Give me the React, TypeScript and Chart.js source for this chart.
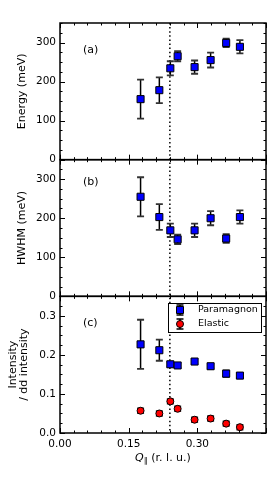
import React, { useEffect, useRef } from 'react';
import { Chart, registerables } from 'chart.js';

Chart.register(...registerables);

// ---------- data ----------
const qValues = [0.176, 0.217, 0.241, 0.257, 0.294, 0.329, 0.363, 0.393];

const energy = [155, 178, 234, 265, 237, 255, 299, 289];
const energyErr = [50, 33, 18, 13, 17, 19, 11, 17];

const hwhm = [255, 203, 169, 146, 169, 200, 148, 203];
const hwhmErr = [50, 33, 17, 12, 17, 18, 11, 17];

const paramagnon = [0.227, 0.212, 0.176, 0.173, 0.183, 0.171, 0.152, 0.147];
const paramagnonErr = [0.063, 0.027, 0.006, 0.006, 0.006, 0.006, 0.008, 0.006];

const elastic = [0.057, 0.05, 0.081, 0.062, 0.034, 0.037, 0.024, 0.015];
const elasticErr = [0.006, 0.006, 0.006, 0.006, 0.006, 0.006, 0.006, 0.006];

const orderQ = 0.24;

const panelLabels = ['(a)', '(b)', '(c)'];
const yTitles: (string | string[])[] = ['Energy (meV)', 'HWHM (meV)', ['Intensity', '/ dd intensity']];
const xTitleMain = 'Q';
const xTitleSub = '\u2225';
const xTitleRest = ' (r. l. u.)';

const FONT = '"DejaVu Sans", sans-serif';

const panels = [
  { id: 'ya', min: 0, max: 350, major: 100, minor: 25, digits: 0 },
  { id: 'yb', min: 0, max: 350, major: 100, minor: 25, digits: 0 },
  { id: 'yc', min: 0, max: 0.35, major: 0.1, minor: 0.025, digits: 1 },
];
const xAxis = { min: 0, max: 0.45, major: 0.15, minor: 0.03 };

const isMajor = (v: number, step: number) => Math.abs(v / step - Math.round(v / step)) < 1e-6;

const errorBarPlugin = {
  id: 'errorBars',
  beforeDatasetsDraw(chart: any) {
    const ctx = chart.ctx;
    const xs = chart.scales.x;
    const area = chart.chartArea;
    ctx.save();
    // dotted vertical line
    const xp = xs.getPixelForValue(orderQ);
    ctx.strokeStyle = '#000';
    ctx.lineWidth = 1.5;
    ctx.setLineDash([1.5, 2.6]);
    ctx.beginPath();
    ctx.moveTo(xp, area.top);
    ctx.lineTo(xp, area.bottom);
    ctx.stroke();
    ctx.setLineDash([]);
    // error bars
    chart.data.datasets.forEach((ds: any, di: number) => {
      const meta = chart.getDatasetMeta(di);
      const ys = chart.scales[ds.yAxisID];
      meta.data.forEach((pt: any, i: number) => {
        const v = ds.data[i].y;
        const e = ds.errors[i];
        const y1 = ys.getPixelForValue(v + e);
        const y2 = ys.getPixelForValue(v - e);
        const x = pt.x;
        ctx.lineWidth = 1.5;
        ctx.strokeStyle = '#000';
        ctx.beginPath();
        ctx.moveTo(x, y1);
        ctx.lineTo(x, y2);
        ctx.stroke();
        ctx.lineWidth = 1.8;
        ctx.strokeStyle = '#333';
        ctx.beginPath();
        ctx.moveTo(x - 3.5, y1);
        ctx.lineTo(x + 3.5, y1);
        ctx.moveTo(x - 3.5, y2);
        ctx.lineTo(x + 3.5, y2);
        ctx.stroke();
      });
    });
    ctx.restore();
  },
};

const framePlugin = {
  id: 'frames',
  afterDatasetsDraw(chart: any) {
    const ctx = chart.ctx;
    const xs = chart.scales.x;
    const area = chart.chartArea;
    const left = area.left;
    const right = area.right;
    ctx.save();
    ctx.strokeStyle = '#000';
    panels.forEach((p, pi) => {
      const s = chart.scales[p.id];
      const top = s.getPixelForValue(p.max);
      const bottom = s.getPixelForValue(p.min);
      ctx.lineWidth = 1;
      ctx.beginPath();
      const ny = Math.round((p.max - p.min) / p.minor);
      for (let k = 0; k <= ny; k++) {
        const v = p.min + k * p.minor;
        const len = isMajor(v, p.major) ? 5 : 2.5;
        const py = Math.round(s.getPixelForValue(v)) + 0.5;
        ctx.moveTo(left, py);
        ctx.lineTo(left + len, py);
        ctx.moveTo(right, py);
        ctx.lineTo(right - len, py);
      }
      const nx = Math.round((xAxis.max - xAxis.min) / xAxis.minor);
      for (let k = 0; k <= nx; k++) {
        const v = xAxis.min + k * xAxis.minor;
        const len = isMajor(v, xAxis.major) ? 5 : 2.5;
        const px = Math.round(xs.getPixelForValue(v)) + 0.5;
        ctx.moveTo(px, bottom);
        ctx.lineTo(px, bottom - len);
        ctx.moveTo(px, top);
        ctx.lineTo(px, top + len);
      }
      ctx.stroke();
      ctx.lineWidth = 1.5;
      ctx.strokeRect(left, top, right - left, bottom - top);

      // panel label
      ctx.fillStyle = '#000';
      ctx.font = `11px ${FONT}`;
      ctx.textAlign = 'left';
      ctx.textBaseline = 'middle';
      const offs = [27, 22, 27];
      ctx.fillText(panelLabels[pi], xs.getPixelForValue(0.05), top + offs[pi]);
    });

    // legend in panel (c)
    const legendSets = chart.data.datasets.filter((d: any) => d.inLegend);
    const lx = 168, ly = 303, lw = 93, lh = 29;
    ctx.fillStyle = '#fff';
    ctx.fillRect(lx, ly, lw, lh);
    ctx.lineWidth = 1;
    ctx.strokeStyle = '#000';
    ctx.strokeRect(lx + 0.5, ly + 0.5, lw, lh);
    legendSets.forEach((d: any, i: number) => {
      const cy = ly + 7 + i * 14;
      const cx = lx + 12;
      ctx.strokeStyle = '#000';
      ctx.lineWidth = 1.5;
      ctx.beginPath();
      ctx.moveTo(cx, cy - 5);
      ctx.lineTo(cx, cy + 5);
      ctx.moveTo(cx - 3.5, cy - 5);
      ctx.lineTo(cx + 3.5, cy - 5);
      ctx.moveTo(cx - 3.5, cy + 5);
      ctx.lineTo(cx + 3.5, cy + 5);
      ctx.stroke();
      ctx.fillStyle = d.backgroundColor;
      ctx.lineWidth = 1;
      ctx.beginPath();
      if (d.pointStyle === 'rect') {
        ctx.rect(cx - 3.5, cy - 3.5, 7, 7);
      } else {
        ctx.arc(cx, cy, 3.5, 0, Math.PI * 2);
      }
      ctx.fill();
      ctx.stroke();
      ctx.fillStyle = '#000';
      ctx.font = `9.5px ${FONT}`;
      ctx.textAlign = 'left';
      ctx.textBaseline = 'middle';
      ctx.fillText(d.label, lx + 30, cy);
    });

    // x axis title
    ctx.fillStyle = '#000';
    ctx.textBaseline = 'alphabetic';
    ctx.textAlign = 'left';
    ctx.font = `italic 11px ${FONT}`;
    const wQ = ctx.measureText(xTitleMain).width;
    ctx.font = `8px ${FONT}`;
    const wSub = ctx.measureText(xTitleSub).width;
    ctx.font = `11px ${FONT}`;
    const wRest = ctx.measureText(xTitleRest).width;
    const total = wQ + wSub + wRest;
    let x0 = (left + right) / 2 - total / 2;
    const base = 461;
    ctx.font = `italic 11px ${FONT}`;
    ctx.fillText(xTitleMain, x0, base);
    x0 += wQ;
    ctx.font = `8px ${FONT}`;
    ctx.fillText(xTitleSub, x0, base + 2);
    x0 += wSub;
    ctx.font = `11px ${FONT}`;
    ctx.fillText(xTitleRest, x0, base);
    ctx.restore();
  },
};

export default function App() {
  const ref = useRef<HTMLCanvasElement>(null);
  useEffect(() => {
    const pts = (ys: number[]) => qValues.map((x, i) => ({ x, y: ys[i] }));
    const blue = {
      pointStyle: 'rect',
      pointRadius: 5,
      backgroundColor: '#0000ff',
      borderColor: '#000',
      borderWidth: 1,
      showLine: false,
    };
    const yScale = (p: any, idx: number, weight: number) => ({
      type: 'linear',
      position: 'left',
      stack: 'panels',
      stackWeight: 1,
      weight,
      min: p.min,
      max: p.max,
      offset: false,
      grid: { display: false, drawTicks: false },
      border: { display: false },
      afterBuildTicks: (s: any) => {
        s.ticks = s.ticks.filter((t: any) => isMajor(t.value, p.major));
      },
      afterFit: (s: any) => {
        s.width = 60;
      },
      ticks: {
        stepSize: p.major,
        autoSkip: false,
        padding: 4,
        color: '#000',
        font: { family: FONT, size: 10.5 },
        callback: (v: number) => (v >= p.max - 1e-9 ? '' : Number(v).toFixed(p.digits)),
      },
      title: {
        display: true,
        text: yTitles[idx],
        color: '#000',
        font: { family: FONT, size: 11, lineHeight: 1.05 },
        padding: { top: idx === 2 ? 7 : 16, bottom: 0 },
      },
    });
    const chart = new Chart(ref.current as HTMLCanvasElement, {
      type: 'scatter',
      data: {
        datasets: [
          { label: 'Energy', data: pts(energy), errors: energyErr, yAxisID: 'ya', ...blue },
          { label: 'HWHM', data: pts(hwhm), errors: hwhmErr, yAxisID: 'yb', ...blue },
          { label: 'Paramagnon', data: pts(paramagnon), errors: paramagnonErr, yAxisID: 'yc', inLegend: true, ...blue },
          {
            label: 'Elastic',
            data: pts(elastic),
            errors: elasticErr,
            yAxisID: 'yc',
            inLegend: true,
            pointStyle: 'circle',
            pointRadius: 3.5,
            backgroundColor: '#ff0000',
            borderColor: '#000',
            borderWidth: 1,
            showLine: false,
          },
        ] as any,
      },
      options: {
        responsive: false,
        animation: false,
        devicePixelRatio: 1,
        layout: { padding: { top: 23, right: 5, left: 0, bottom: 0 } },
        plugins: { legend: { display: false }, tooltip: { enabled: false } },
        scales: {
          x: {
            type: 'linear',
            position: 'bottom',
            min: xAxis.min,
            max: xAxis.max,
            grid: { display: false, drawTicks: false },
            border: { display: false },
            afterBuildTicks: (s: any) => {
              s.ticks = s.ticks.filter((t: any) => isMajor(t.value, xAxis.major));
            },
            afterFit: (s: any) => {
              s.height = 48;
            },
            ticks: {
              stepSize: xAxis.major,
              autoSkip: false,
              maxRotation: 0,
              padding: 5,
              color: '#000',
              font: { family: FONT, size: 10.5 },
              callback: (v: number) => (v >= xAxis.max - 1e-9 ? '' : Number(v).toFixed(2)),
            },
          },
          ya: yScale(panels[0], 0, 3),
          yb: yScale(panels[1], 1, 2),
          yc: yScale(panels[2], 2, 1),
        } as any,
      },
      plugins: [errorBarPlugin, framePlugin],
    } as any);
    return () => chart.destroy();
  }, []);
  return (
    <div style={{ position: 'absolute', left: 0, top: 0, width: 272, height: 481, background: '#fff' }}>
      <canvas ref={ref} width={272} height={481} style={{ display: 'block' }} />
    </div>
  );
}
